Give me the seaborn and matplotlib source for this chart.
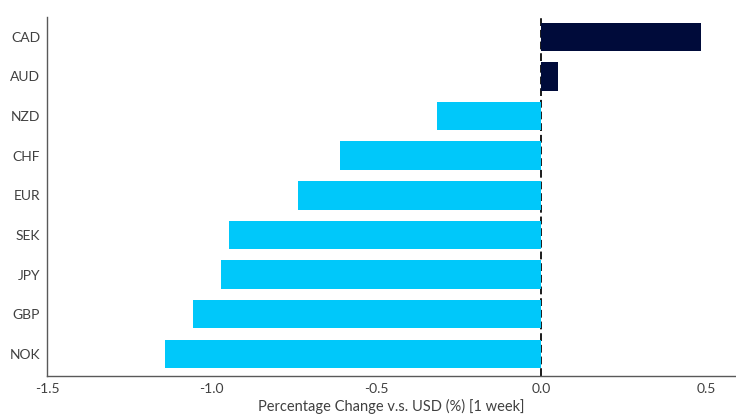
import matplotlib
matplotlib.use("Agg")
import matplotlib.pyplot as plt
import seaborn as sns
import pandas as pd

currencies = ["CAD", "AUD", "NZD", "CHF", "EUR", "SEK", "JPY", "GBP", "NOK"]
pct_change = [0.483, 0.049, -0.316, -0.61, -0.738, -0.947, -0.972, -1.057, -1.142]
x_ticks = [-1.5, -1.0, -0.5, 0.0, 0.5]
x_tick_labels = ["-1.5", "-1.0", "-0.5", "0.0", "0.5"]

df = pd.DataFrame({"currency": currencies, "change": pct_change})
df["sign"] = ["pos" if v > 0 else "neg" for v in pct_change]

sns.set_style("white")
plt.rcParams["font.family"] = ["Lato", "DejaVu Sans"]

fig = plt.figure(figsize=(7.36, 4.19), dpi=100)
ax = fig.add_axes([47 / 736, 1 - 376 / 419, (736 - 47) / 736, (376 - 17) / 419])

ax.axvline(0, color="#1a1a1a", lw=1.4, ls=(0, (4, 2)), zorder=0.5)
sns.barplot(data=df, y="currency", x="change", hue="sign",
            palette={"pos": "#000b3a", "neg": "#00c8fa"}, saturation=1,
            orient="h", width=0.72, dodge=False, legend=False, ax=ax,
            edgecolor="none")
for p in ax.patches:
    p.set_zorder(3)

ax.set_xlim(-1.5, 0.59)
ax.set_ylim(8.56, -0.5)
ax.set_xticks(x_ticks)
ax.set_xticklabels(x_tick_labels)
ax.set_xlabel("Percentage Change v.s. USD (%) [1 week]", fontsize=10.5, color="#404040", labelpad=3)
ax.set_ylabel("")
for s in ["top", "right"]:
    ax.spines[s].set_visible(False)
for s in ["left", "bottom"]:
    ax.spines[s].set_color("#595959")
    ax.spines[s].set_linewidth(1.0)
    ax.spines[s].set_zorder(4)
ax.tick_params(axis="both", which="both", direction="out", length=3, width=1,
               color="#595959", labelsize=10, labelcolor="#404040")
ax.tick_params(axis="y", pad=2)
ax.tick_params(axis="x", pad=2)

fig.savefig("out.png", dpi=100)
